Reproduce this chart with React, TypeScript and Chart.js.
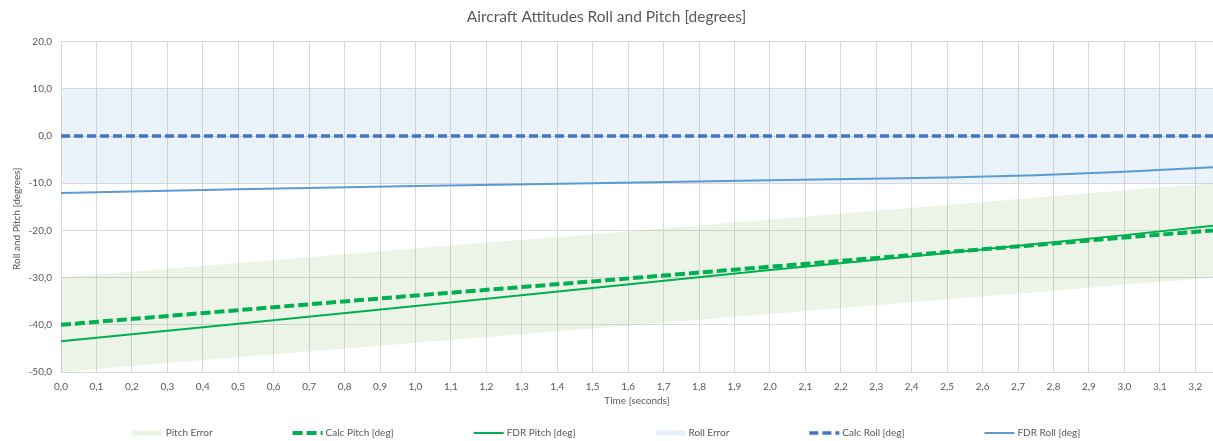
import React, { useEffect, useRef } from "react";
import { Chart, registerables } from "chart.js";

Chart.register(...registerables);

// ---- Data ----
const timeSec = [0, 0.5, 1.0, 1.5, 2.0, 2.5, 2.75, 3.0, 3.25];
const pitchErrorLow = [-50, -46.9, -43.8, -40.8, -37.7, -34.6, -33.1, -31.5, -30.0];
const pitchErrorHigh = [-30, -26.9, -23.8, -20.8, -17.7, -14.6, -13.1, -11.5, -10.0];
const calcPitch = [-40, -36.9, -33.8, -30.8, -27.7, -24.6, -23.1, -21.5, -20.0];
const fdrPitch = [-43.5, -39.8, -36.0, -32.2, -28.4, -24.8, -22.9, -21.0, -19.0];
const rollErrorLow = [-10, -10, -10, -10, -10, -10, -10, -10, -10];
const rollErrorHigh = [10, 10, 10, 10, 10, 10, 10, 10, 10];
const calcRoll = [0, 0, 0, 0, 0, 0, 0, 0, 0];
const fdrRoll = [-12.1, -11.3, -10.6, -10.0, -9.4, -8.8, -8.3, -7.6, -6.6];

const seriesLabels = [
  "Pitch Error",
  "Calc Pitch [deg]",
  "FDR Pitch [deg]",
  "Roll Error",
  "Calc Roll [deg]",
  "FDR Roll [deg]",
];
const chartTitle = "Aircraft Attitudes Roll and Pitch [degrees]";
const xTitle = "Time [seconds]";
const yTitle = "Roll and Pitch [degrees]";
const xMin = 0;
const xMax = 3.25;
const xStep = 0.1;
const yMin = -50;
const yMax = 20;
const yStep = 10;

const FONT = "Lato, 'Open Sans', sans-serif";
const TEXT = "#595959";
const GRID = "#D9D9D9";

const pts = (ys: number[]) => timeSec.map((x, i) => ({ x, y: ys[i] }));
const fmt = (v: number) => Number(v).toFixed(1).replace(".", ",");

const yAxisTitle = {
  id: "yAxisTitle",
  afterDraw(chart: any) {
    const ctx = chart.ctx as CanvasRenderingContext2D;
    const area = chart.chartArea;
    ctx.save();
    ctx.translate(17, (area.top + area.bottom) / 2 + 12);
    ctx.rotate(-Math.PI / 2);
    ctx.font = `10px ${FONT}`;
    ctx.fillStyle = TEXT;
    ctx.textAlign = "center";
    ctx.textBaseline = "middle";
    ctx.fillText(yTitle, 0, 0);
    ctx.restore();
  },
};

const bottomLegend = {
  id: "bottomLegend",
  afterDraw(chart: any) {
    const ctx = chart.ctx as CanvasRenderingContext2D;
    const items = chart.data.datasets
      .filter((d: any) => d.legendShow)
      .map((d: any) => ({
        text: d.label,
        color: d.legendColor || d.borderColor,
        width: d.legendWidth || d.borderWidth,
        dash: d.borderDash || [],
      }));
    ctx.save();
    ctx.font = `10px ${FONT}`;
    const symW = 30;
    const gapT = 3;
    const gapI = 80;
    const widths = items.map((it: any) => ctx.measureText(it.text).width);
    const total =
      widths.reduce((a: number, w: number) => a + symW + gapT + w, 0) + gapI * (items.length - 1);
    let x = (chart.width - total) / 2;
    const y = chart.height - 8;
    items.forEach((it: any, i: number) => {
      ctx.beginPath();
      ctx.setLineDash(it.dash);
      ctx.lineWidth = it.width;
      ctx.strokeStyle = it.color;
      ctx.lineCap = "butt";
      ctx.moveTo(x, y);
      ctx.lineTo(x + symW, y);
      ctx.stroke();
      ctx.setLineDash([]);
      ctx.fillStyle = TEXT;
      ctx.textBaseline = "middle";
      ctx.textAlign = "left";
      ctx.fillText(it.text, x + symW + gapT, y);
      x += symW + gapT + widths[i] + gapI;
    });
    ctx.restore();
  },
};

export default function App() {
  const ref = useRef<HTMLCanvasElement | null>(null);

  useEffect(() => {
    document.body.style.margin = "0";
    const canvas = ref.current;
    if (!canvas) return;
    const chart = new Chart(canvas, {
      type: "line",
      data: {
        datasets: [
          {
            label: "pitchLow",
            data: pts(pitchErrorLow),
            borderWidth: 0,
            borderColor: "rgba(0,0,0,0)",
            pointRadius: 0,
            fill: false,
          } as any,
          {
            label: seriesLabels[0],
            data: pts(pitchErrorHigh),
            borderWidth: 0,
            borderColor: "rgba(0,0,0,0)",
            backgroundColor: "rgba(112,173,71,0.13)",
            pointRadius: 0,
            fill: "-1",
            legendShow: true,
            legendColor: "rgba(112,173,71,0.15)",
            legendWidth: 5,
          },
          {
            label: seriesLabels[1],
            data: pts(calcPitch),
            borderColor: "#00B050",
            borderWidth: 4,
            borderDash: [10, 4],
            pointRadius: 0,
            fill: false,
            legendShow: true,
          },
          {
            label: seriesLabels[2],
            data: pts(fdrPitch),
            borderColor: "#00B050",
            borderWidth: 2,
            pointRadius: 0,
            fill: false,
            legendShow: true,
          },
          {
            label: "rollLow",
            data: pts(rollErrorLow),
            borderWidth: 0,
            borderColor: "rgba(0,0,0,0)",
            pointRadius: 0,
            fill: false,
          },
          {
            label: seriesLabels[3],
            data: pts(rollErrorHigh),
            borderWidth: 0,
            borderColor: "rgba(0,0,0,0)",
            backgroundColor: "rgba(91,155,213,0.13)",
            pointRadius: 0,
            fill: "-1",
            legendShow: true,
            legendColor: "rgba(91,155,213,0.15)",
            legendWidth: 5,
          },
          {
            label: seriesLabels[4],
            data: pts(calcRoll),
            borderColor: "#4472C4",
            borderWidth: 3.5,
            borderDash: [9, 4],
            pointRadius: 0,
            fill: false,
            legendShow: true,
          },
          {
            label: seriesLabels[5],
            data: pts(fdrRoll),
            borderColor: "#5B9BD5",
            borderWidth: 2,
            pointRadius: 0,
            fill: false,
            legendShow: true,
          },
        ] as any,
      },
      options: {
        responsive: false,
        animation: false,
        devicePixelRatio: 1,
        layout: { padding: { left: 0, right: 0, top: 0, bottom: 34 } },
        elements: { line: { tension: 0 } },
        plugins: {
          legend: { display: false },
          tooltip: { enabled: false },
          filler: { drawTime: "beforeDatasetsDraw" } as any,
          title: {
            display: true,
            text: chartTitle,
            color: TEXT,
            font: { family: FONT, size: 15.5, weight: "normal" },
            padding: { top: 8, bottom: 15 },
          },
        },
        scales: {
          x: {
            type: "linear",
            min: xMin,
            max: xMax,
            grid: { color: GRID, drawTicks: false },
            border: { color: GRID },
            ticks: {
              stepSize: xStep,
              includeBounds: false,
              autoSkip: false,
              maxRotation: 0,
              padding: 9,
              color: TEXT,
              font: { family: FONT, size: 10 },
              callback: (v: any) => fmt(v),
            },
            title: {
              display: true,
              text: xTitle,
              color: TEXT,
              font: { family: FONT, size: 10 },
              padding: { top: 0, bottom: 0 },
            },
            afterFit: (s: any) => {
              s.height = 35;
            },
          },
          y: {
            type: "linear",
            min: yMin,
            max: yMax,
            grid: { color: GRID, drawTicks: false },
            border: { color: GRID },
            ticks: {
              stepSize: yStep,
              padding: 9,
              color: TEXT,
              font: { family: FONT, size: 10 },
              callback: (v: any) => fmt(v),
            },
            title: { display: false },
            afterFit: (s: any) => {
              s.width = 61;
            },
          },
        },
      } as any,
      plugins: [bottomLegend, yAxisTitle],
    });
    return () => chart.destroy();
  }, []);

  return (
    <div style={{ width: 1213, height: 441 }}>
      <canvas ref={ref} width={1213} height={441} />
    </div>
  );
}
